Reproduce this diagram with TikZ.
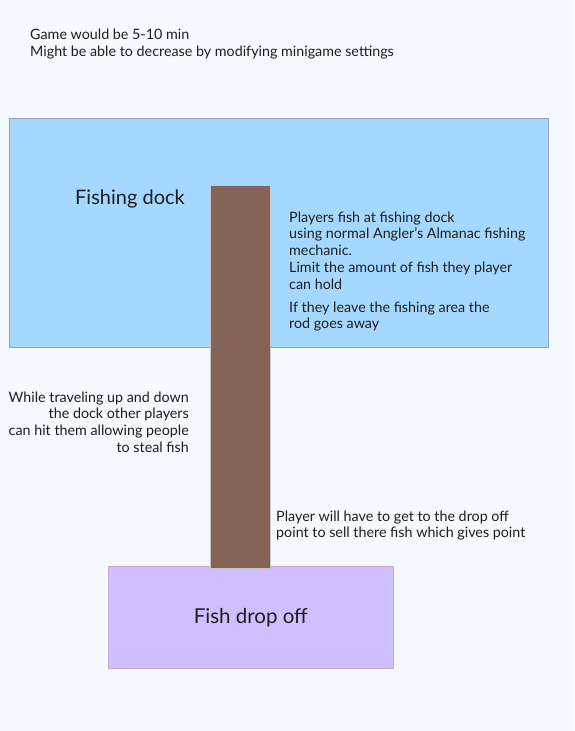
\documentclass[tikz,border=0pt]{standalone}
\usepackage{fontspec}
\setmainfont{Lato}
\usetikzlibrary{positioning}
\definecolor{bgcol}{HTML}{F5FAFF}
\definecolor{waterblue}{HTML}{A5D8FF}
\definecolor{dockbrown}{HTML}{846358}
\definecolor{droppurple}{HTML}{D0BFFF}
\definecolor{inkcol}{HTML}{1E1E1E}
\tikzstyle{area} = [rectangle, anchor=north west, inner sep=0pt, draw=gray!70!blue!60, fill=waterblue, line width=0.6pt]
\tikzstyle{dock} = [rectangle, anchor=north west, inner sep=0pt, draw=gray!45, fill=dockbrown, line width=0.8pt]
\tikzstyle{dropoff} = [rectangle, anchor=north west, inner sep=0pt, draw=violet!35, fill=droppurple, line width=0.6pt, font=\fontsize{20.5}{24}\selectfont, text=inkcol]
\tikzstyle{note} = [inner sep=0pt, text=inkcol, font=\fontsize{14.3}{16.7}\selectfont]
\tikzstyle{title} = [inner sep=0pt, text=inkcol, font=\fontsize{20}{24}\selectfont]

\begin{document}
\begin{tikzpicture}[x=1pt, y=-1pt]
        \useasboundingbox [fill=bgcol] (0,0) rectangle (574,731);
        % top remark
        \node (timing) [note, anchor=north west, align=left, font=\fontsize{14.3}{17}\selectfont] at (30,29) {Game would be 5-10 min\\Might be able to decrease by modifying minigame settings};

        \node (water) [area, minimum width=539pt, minimum height=229pt] at (9,118) {};
        \node (drop) [dropoff, minimum width=285pt, minimum height=102pt] at (108,566) {Fish drop off};
        \node (pier) [dock, minimum width=60pt, minimum height=383pt] at (210,185) {};

        \node (dockname) [title] at (130,199) {Fishing dock};

        \node (fishrule) [note, anchor=north west, align=left] at (289,211.5) {Players fish at fishing dock\\using normal Angler's Almanac fishing\\mechanic.\\Limit the amount of fish they player\\can hold};
        \node (rodrule) [note, anchor=north west, align=left] at (289,301.5) {If they leave the fishing area the\\rod goes away};

        \node (travel) [note, anchor=north east, align=right] at (189,391.5) {While traveling up and down\\the dock other players\\can hit them allowing people\\to steal fish};
        \node (sell) [note, anchor=north west, align=left] at (276,510.5) {Player will have to get to the drop off\\point to sell there fish which gives point};
      \end{tikzpicture}
\end{document}
